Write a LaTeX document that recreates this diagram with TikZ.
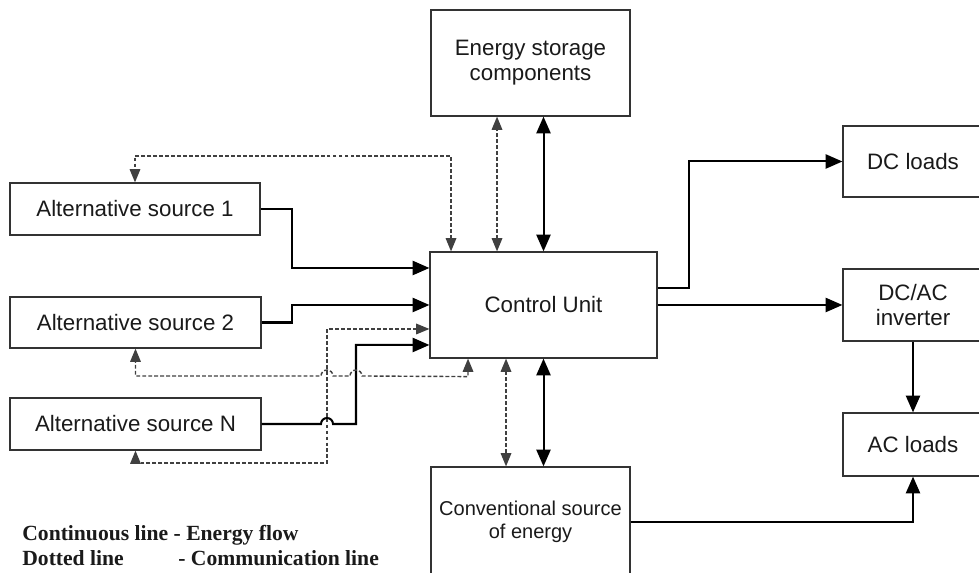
\documentclass[tikz,border=0pt]{standalone}
\usepackage{fontspec}
\setmainfont{Liberation Serif}
\setsansfont{Liberation Sans}
\usetikzlibrary{arrows.meta, calc}
\definecolor{Dark}{HTML}{1A1A1A}
\definecolor{Frame}{HTML}{333333}
\definecolor{Comm}{HTML}{404040}
\tikzset{
    blocknode/.style={rectangle, draw=Frame, line width=0.7pt, fill=white, text=Dark, align=center, font=\sffamily\fontsize{12.7}{14.2}\selectfont, inner sep=0pt},
    powerline/.style={-{Triangle[length=9.5pt,width=8pt]}, line width=1.15pt, color=black},
    powerboth/.style={{Triangle[length=9.5pt,width=8pt]}-{Triangle[length=9.5pt,width=8pt]}, line width=1.15pt, color=black},
    commline/.style={{Triangle[length=7.5pt,width=6pt]}-{Triangle[length=7.5pt,width=6pt]}, line width=0.8pt, color=Comm, dash pattern=on 2.2pt off 1.2pt},
    legendnode/.style={anchor=west, inner sep=0pt, text=Dark, font=\bfseries\fontsize{12.3}{15}\selectfont},
}

\begin{document}
\begin{tikzpicture}[x=0.02cm, y=0.02cm]
    \useasboundingbox (0,0) rectangle (979,573);
    \clip (0,0) rectangle (979,573);

    % Blocchi centrali
    \node[blocknode, minimum width=3.98cm, minimum height=2.12cm] (storage) at (530.5,510) {Energy storage\\components};
    \node[blocknode, minimum width=4.54cm, minimum height=2.12cm] (cu) at (543.5,268) {Control Unit};
    \node[blocknode, minimum width=3.98cm, minimum height=2.2cm, font=\sffamily\fontsize{11.4}{13.4}\selectfont] (conv) at (530.5,51) {Conventional source\\of energy};

    % Sorgenti alternative
    \node[blocknode, minimum width=5cm, minimum height=1.04cm] (altone) at (135,364) {Alternative source 1};
    \node[blocknode, minimum width=5.02cm, minimum height=1.02cm] (alttwo) at (135.5,250.5) {Alternative source 2};
    \node[blocknode, minimum width=5.02cm, minimum height=1.04cm] (altn) at (135.5,149) {Alternative source N};

    % Carichi
    \node[blocknode, minimum width=2.8cm, minimum height=1.42cm] (dcload) at (913,411.5) {DC loads};
    \node[blocknode, minimum width=2.8cm, minimum height=1.44cm] (inverter) at (913,268) {DC/AC\\inverter};
    \node[blocknode, minimum width=2.8cm, minimum height=1.26cm] (acload) at (913,128.5) {AC loads};

    % Flusso di energia
    \draw[powerline] (altone.east) -- ++(31,0) |- ([yshift=0.74cm]cu.west);
    \draw[powerline] (alttwo.east) -- ++(30,0) |- (cu.west);
    \draw[powerline] (altn.east) -- (321,149) arc[start angle=180, end angle=0, radius=0.12cm] -- (356,149) |- ([yshift=-0.8cm]cu.west);
    \draw[powerboth] (cu.north) -- (cu.north |- storage.south);
    \draw[powerboth] (cu.south) -- (cu.south |- conv.north);
    \draw[powerline] ([yshift=0.34cm]cu.east) -- ++(31,0) |- (dcload.west);
    \draw[powerline] (cu.east) -- (inverter.west);
    \draw[powerline] (inverter.south) -- (acload.north);
    \draw[powerline] (conv.east) -| (acload.south);

    % Linee di comunicazione
    \coordinate (cudota) at ([xshift=-0.93cm]cu.north);
    \coordinate (cudotb) at ([xshift=-0.75cm]cu.south);
    \draw[commline] ([xshift=-1.85cm]cu.north) |- (135,417) -- (altone.north);
    \draw[commline] (cudota) -- (cudota |- storage.south);
    \draw[commline] (cudotb) -- (cudotb |- conv.north);
    \draw[commline] ([yshift=-0.48cm]cu.west) -| (327,110) -| (altn.south);
    \draw[commline] ([xshift=-1.51cm]cu.south) -- ++(0,-18) -- (362,197)
        arc[start angle=0, end angle=180, radius=0.12cm] -- (333,197)
        arc[start angle=0, end angle=180, radius=0.12cm] -| (alttwo.south);

    % Legenda
    \node[legendnode] (legone) at (22,38) {Continuous line - Energy flow};
    \node[legendnode] (legtwo) at (22,15) {Dotted line};
    \node[legendnode] (legthree) at (178,15) {- Communication line};
\end{tikzpicture}
\end{document}
